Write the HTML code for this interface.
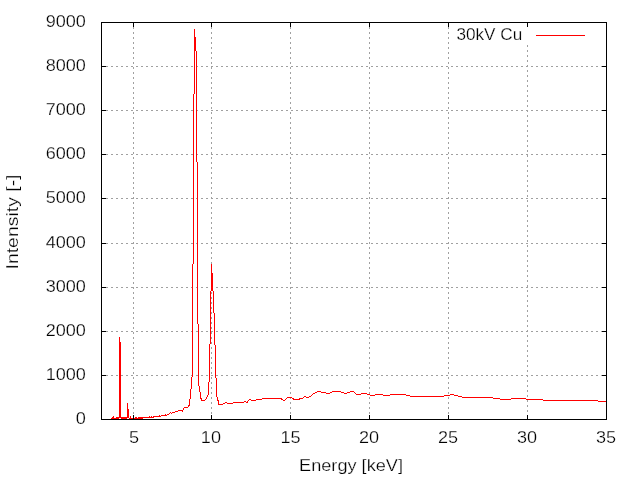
<!DOCTYPE html>
<html lang="en">
<head>
<meta charset="utf-8">
<title>30kV Cu spectrum</title>
<style>
html,body{margin:0;padding:0;background:#fff;width:640px;height:480px;overflow:hidden}
svg{display:block}
text{font-family:"Liberation Sans",sans-serif;font-size:17px;fill:#000;stroke:#fff;stroke-width:0.25px}
</style>
</head>
<body>
<svg width="640" height="480" viewBox="0 0 640 480">
<rect width="640" height="480" fill="#fff"/>
<g stroke="#a0a0a0" stroke-width="1" stroke-dasharray="2 3" shape-rendering="crispEdges" fill="none"><line x1="101" y1="66.5" x2="607" y2="66.5"/><line x1="101" y1="110.5" x2="607" y2="110.5"/><line x1="101" y1="154.5" x2="607" y2="154.5"/><line x1="101" y1="198.5" x2="607" y2="198.5"/><line x1="101" y1="243.5" x2="607" y2="243.5"/><line x1="101" y1="287.5" x2="607" y2="287.5"/><line x1="101" y1="331.5" x2="607" y2="331.5"/><line x1="101" y1="375.5" x2="607" y2="375.5"/><line x1="133.5" y1="22" x2="133.5" y2="420"/><line x1="211.5" y1="22" x2="211.5" y2="420"/><line x1="290.5" y1="22" x2="290.5" y2="420"/><line x1="369.5" y1="22" x2="369.5" y2="420"/><line x1="448.5" y1="22" x2="448.5" y2="420"/><line x1="527.5" y1="22" x2="527.5" y2="27"/><line x1="527.5" y1="45" x2="527.5" y2="420"/></g>
<path d="M194 29h1v65h-1zM195 37h1v14h-1zM196 51h1v111h-1zM193 94h1v170h-1zM197 162h1v162h-1zM211 264h1v27h-1zM192 264h1v113h-1zM212 273h1v18h-1zM213 291h1v22h-1zM210 291h1v53h-1zM214 313h1v32h-1zM198 324h1v62h-1zM119 337h1v81h-1zM120 342h1v76h-1zM209 344h1v38h-1zM215 345h1v33h-1zM191 377h1v12h-1zM216 378h1v19h-1zM208 382h1v13h-1zM199 386h1v6h-1zM190 389h1v10h-1zM317 391h4v1h-4zM332 391h9v1h-9zM350 391h4v1h-4zM315 392h2v1h-2zM321 392h5v1h-5zM330 392h2v1h-2zM341 392h3v1h-3zM347 392h3v1h-3zM354 392h1v1h-1zM200 392h1v7h-1zM313 393h2v1h-2zM326 393h4v1h-4zM344 393h3v1h-3zM355 393h1v1h-1zM361 393h6v1h-6zM312 394h1v1h-1zM356 394h5v1h-5zM367 394h3v1h-3zM375 394h8v1h-8zM390 394h16v1h-16zM450 394h4v1h-4zM311 395h1v1h-1zM370 395h5v1h-5zM383 395h7v1h-7zM406 395h4v1h-4zM444 395h6v1h-6zM454 395h4v1h-4zM207 395h1v2h-1zM304 396h2v1h-2zM309 396h2v1h-2zM410 396h34v1h-34zM458 396h4v1h-4zM287 397h5v1h-5zM303 397h1v1h-1zM306 397h3v1h-3zM462 397h31v1h-31zM206 397h1v2h-1zM217 397h1v4h-1zM262 398h19v1h-19zM286 398h1v1h-1zM292 398h1v1h-1zM300 398h3v1h-3zM493 398h7v1h-7zM511 398h15v1h-15zM281 398h1v2h-1zM293 398h1v2h-1zM299 398h1v2h-1zM201 398h1v3h-1zM205 399h1v1h-1zM249 399h2v1h-2zM256 399h6v1h-6zM282 399h1v1h-1zM285 399h1v1h-1zM294 399h5v1h-5zM500 399h11v1h-11zM526 399h17v1h-17zM189 399h1v7h-1zM202 400h3v1h-3zM248 400h1v1h-1zM251 400h5v1h-5zM283 400h2v1h-2zM543 400h55v1h-55zM218 400h1v5h-1zM244 401h2v1h-2zM598 401h8v1h-8zM247 401h1v2h-1zM225 402h2v1h-2zM233 402h11v1h-11zM246 402h1v1h-1zM223 403h2v1h-2zM227 403h6v1h-6zM127 403h1v15h-1zM219 404h4v1h-4zM188 405h1v2h-1zM184 407h4v1h-4zM183 408h1v2h-1zM128 409h1v9h-1zM178 410h4v1h-4zM182 410h1v2h-1zM175 411h3v1h-3zM170 412h1v1h-1zM172 412h3v1h-3zM169 413h1v1h-1zM171 413h1v1h-1zM167 414h2v1h-2zM165 414h1v2h-1zM161 415h4v1h-4zM166 415h1v1h-1zM159 415h1v2h-1zM154 416h5v1h-5zM160 416h1v1h-1zM149 416h1v2h-1zM151 416h1v2h-1zM153 416h1v2h-1zM113 416h1v3h-1zM130 416h1v3h-1zM143 417h11v1h-11zM112 417h1v2h-1zM116 417h1v2h-1zM117 417h1v2h-1zM118 417h1v2h-1zM121 417h1v2h-1zM122 417h1v2h-1zM123 417h1v2h-1zM124 417h1v2h-1zM125 417h1v2h-1zM126 417h1v2h-1zM135 417h1v2h-1zM136 417h1v2h-1zM138 417h1v2h-1zM139 417h1v2h-1zM140 417h1v2h-1zM141 417h1v2h-1zM142 417h1v2h-1zM111 418h1v1h-1zM114 418h2v1h-2zM129 418h1v1h-1zM131 418h4v1h-4zM137 418h1v1h-1z" fill="#ff0000" shape-rendering="crispEdges"/>
<path d="M536 35h49v1h-49z" fill="#ff0000" shape-rendering="crispEdges"/>
<path d="M102 66h4v1h-4zM602 66h4v1h-4zM102 110h4v1h-4zM602 110h4v1h-4zM102 154h4v1h-4zM602 154h4v1h-4zM102 198h4v1h-4zM602 198h4v1h-4zM102 243h4v1h-4zM602 243h4v1h-4zM102 287h4v1h-4zM602 287h4v1h-4zM102 331h4v1h-4zM602 331h4v1h-4zM102 375h4v1h-4zM602 375h4v1h-4zM133 23h1v4h-1zM133 415h1v4h-1zM211 23h1v4h-1zM211 415h1v4h-1zM290 23h1v4h-1zM290 415h1v4h-1zM369 23h1v4h-1zM369 415h1v4h-1zM448 23h1v4h-1zM448 415h1v4h-1zM527 23h1v4h-1zM527 415h1v4h-1z" fill="#000" shape-rendering="crispEdges"/>
<path d="M101 22h506v398h-506zM102 23v396h504v-396z" fill="#000" fill-rule="evenodd" shape-rendering="crispEdges"/>
<g opacity="0.999"><text x="85.9" y="27.2" text-anchor="end" textLength="40.2" lengthAdjust="spacingAndGlyphs">9000</text><text x="85.9" y="71.2" text-anchor="end" textLength="40.2" lengthAdjust="spacingAndGlyphs">8000</text><text x="85.9" y="115.2" text-anchor="end" textLength="40.2" lengthAdjust="spacingAndGlyphs">7000</text><text x="85.9" y="159.2" text-anchor="end" textLength="40.2" lengthAdjust="spacingAndGlyphs">6000</text><text x="85.9" y="203.2" text-anchor="end" textLength="40.2" lengthAdjust="spacingAndGlyphs">5000</text><text x="85.9" y="248.2" text-anchor="end" textLength="40.2" lengthAdjust="spacingAndGlyphs">4000</text><text x="85.9" y="292.2" text-anchor="end" textLength="40.2" lengthAdjust="spacingAndGlyphs">3000</text><text x="85.9" y="336.2" text-anchor="end" textLength="40.2" lengthAdjust="spacingAndGlyphs">2000</text><text x="85.9" y="380.2" text-anchor="end" textLength="40.2" lengthAdjust="spacingAndGlyphs">1000</text><text x="85.9" y="424.2" text-anchor="end" textLength="10.1" lengthAdjust="spacingAndGlyphs">0</text><text x="134.0" y="443" text-anchor="middle" textLength="10.1" lengthAdjust="spacingAndGlyphs">5</text><text x="210.9" y="443" text-anchor="middle" textLength="20.1" lengthAdjust="spacingAndGlyphs">10</text><text x="290.6" y="443" text-anchor="middle" textLength="20.1" lengthAdjust="spacingAndGlyphs">15</text><text x="369.1" y="443" text-anchor="middle" textLength="20.1" lengthAdjust="spacingAndGlyphs">20</text><text x="448.1" y="443" text-anchor="middle" textLength="20.1" lengthAdjust="spacingAndGlyphs">25</text><text x="527.0" y="443" text-anchor="middle" textLength="20.1" lengthAdjust="spacingAndGlyphs">30</text><text x="606.0" y="443" text-anchor="middle" textLength="20.1" lengthAdjust="spacingAndGlyphs">35</text><text x="351" y="470.5" text-anchor="middle" textLength="103.9" lengthAdjust="spacingAndGlyphs">Energy [keV]</text><text x="489.3" y="40" text-anchor="middle" textLength="65.8" lengthAdjust="spacingAndGlyphs">30kV Cu</text><text transform="translate(18 222) rotate(-90)" text-anchor="middle" textLength="95" lengthAdjust="spacingAndGlyphs">Intensity [-]</text></g>
</svg>
</body>
</html>
